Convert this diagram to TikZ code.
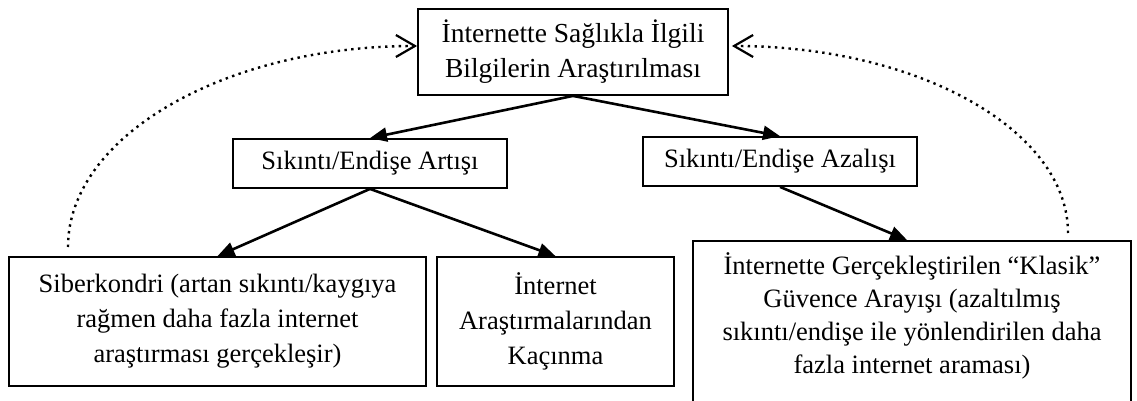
\documentclass[tikz,border=0pt]{standalone}
\usepackage{fontspec}
\setmainfont{Liberation Serif}
\usetikzlibrary{arrows.meta}

\tikzset{
  stagebox/.style={draw, line width=1.8pt, rectangle, inner sep=0pt,
    align=center, font=\fontsize{26.5}{35}\selectfont},
  plaintext/.style={inner sep=0pt, align=center, font=\fontsize{26.5}{33}\selectfont},
  flow/.style={line width=2.6pt, -{Triangle[length=17pt,width=14pt]}},
  feedback/.style={line width=2.4pt, dash pattern=on 2.4pt off 4.4pt,
    -{Straight Barb[length=19pt,width=22pt,line width=2.2pt]}}
}

\begin{document}
\begin{tikzpicture}[x=1pt, y=-1pt]
  \path[use as bounding box, clip] (0,0) rectangle (1137,401);

  % top: searching for health information
  \node[stagebox, minimum width=310pt, minimum height=86pt,
        font=\fontsize{27.5}{35}\selectfont] (arastirma) at (573,52)
    {İnternette Sağlıkla İlgili\\Bilgilerin Araştırılması};

  % middle: distress goes up or down
  \node[stagebox, minimum width=274pt, minimum height=49pt] (artis) at (370,163.5)
    {Sıkıntı/Endişe Artışı};
  \node[stagebox, minimum width=274pt, minimum height=49pt] (azalis) at (780,161.5)
    {Sıkıntı/Endişe Azalışı};

  % bottom: outcomes
  \node[stagebox, minimum width=417pt, minimum height=129pt] (siber) at (217.5,321.5)
    {Siberkondri (artan sıkıntı/kaygıya\\rağmen daha fazla internet\\araştırması gerçekleşir)};
  \node[stagebox, minimum width=237pt, minimum height=129pt] (kacinma) at (555.5,321.5)
    {İnternet\\Araştırmalarından\\Kaçınma};
  \node[stagebox, minimum width=438pt, minimum height=190pt, anchor=north] (klasik) at (912,240) {};
  \node[plaintext] (klasikmetin) at (912,316)
    {İnternette Gerçekleştirilen “Klasik”\\Güvence Arayışı (azaltılmış\\sıkıntı/endişe ile yönlendirilen daha\\fazla internet araması)};

  % solid flow arrows
  \draw[flow] (arastirma.south) -- (artis.north);
  \draw[flow] (arastirma.south) -- (azalis.north);
  \draw[flow] (artis.south) -- (siber.north);
  \draw[flow] (artis.south) -- (kacinma.north);
  \draw[flow] (azalis.south) -- ([xshift=-5pt]klasik.north);

  % dotted feedback loops back to the search
  \coordinate (solbas) at (68,247);
  \coordinate (sagbas) at (1068,233);
  \draw[feedback] (solbas) .. controls +(0,-111) and +(-192,0) .. ([yshift=6pt]arastirma.west);
  \draw[feedback] (sagbas) .. controls +(0,-103) and +(186,0) .. ([yshift=6pt,xshift=3pt]arastirma.east);
\end{tikzpicture}
\end{document}
